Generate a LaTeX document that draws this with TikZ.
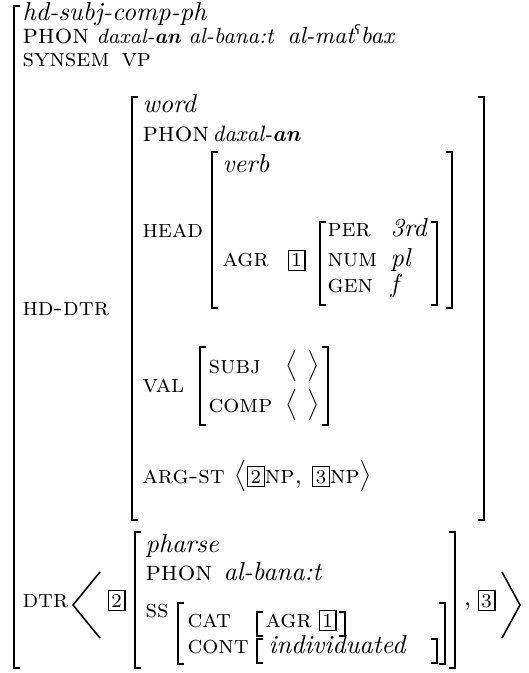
\documentclass[tikz,border=0pt]{standalone}
\usepackage{fontspec}
\newfontfamily\ipafont{DejaVu Sans}
\newcommand\tg[1]{{\setlength\fboxsep{1pt}\setlength\fboxrule{0.5pt}\fbox{\fontsize{7.5}{7.5}\selectfont\upshape #1}}}
\tikzset{
  lab/.style={font=\fontsize{9.7}{12}\selectfont\scshape, anchor=base west, inner sep=0pt},
  plab/.style={font=\fontsize{10.6}{12}\selectfont\scshape, anchor=base west, inner sep=0pt},
  val/.style={font=\fontsize{10}{12}\selectfont\itshape, anchor=base west, inner sep=0pt},
  tag/.style={anchor=base west, inner sep=0pt},
  brk/.style={line width=0.6pt},
}
\newcommand\myLB[3]{\draw[brk] (#1+6,#2) -- (#1,#2) -- (#1,#3) -- (#1+6,#3);}
\newcommand\myRB[3]{\draw[brk] (#1-6,#2) -- (#1,#2) -- (#1,#3) -- (#1-6,#3);}
\begin{document}
\begin{tikzpicture}[x=0.385pt, y=-0.385pt]
\useasboundingbox (0,0) rectangle (528,673);
% outer bracket
\myLB{14}{6}{668}
\node[val] (type) at (22,21) {hd-subj-comp-ph};
\node[plab] (phon) at (22,44) {phon};
\node[val, font=\fontsize{8}{10}\selectfont\itshape] (p1) at (96,44) {daxal-\textbf{an}};
\node[val, font=\fontsize{8.5}{10}\selectfont\itshape] (p2) at (188,44) {al-bana:t};
\node[val, font=\fontsize{9}{10}\selectfont\itshape] (p3) at (287,44) {al-mat\textsuperscript{\fontsize{5}{5}\ipafont\upshape ʕ}\kern-0.6pt bax};
\node[lab] (synsem) at (22,67) {synsem};
\node[lab] (vp) at (121,67) {vp};
% HD-DTR
\node[lab] (hddtr) at (22,316) {hd-dtr};
\myLB{132}{97}{520}
\myRB{484}{97}{520}
\node[val] (word) at (142,113) {word};
\node[plab] (phon2) at (142,142) {phon};
\node[val, font=\fontsize{8.6}{10}\selectfont\itshape] (ph2) at (212,142) {daxal-\textbf{an}};
\node[lab] (head) at (142,238) {head};
\myLB{212}{152}{308}
\myRB{452}{152}{308}
\node[val] (verb) at (222,173) {verb};
\node[lab] (agr) at (222,267) {agr};
\node[tag] (t1a) at (287,267) {\tg{1}};
\myLB{320}{222}{305}
\myRB{437}{222}{305}
\node[lab] (per) at (327,237) {per};
\node[val] (perv) at (390,237) {3rd};
\node[lab] (num) at (327,267) {num};
\node[val] (numv) at (390,267) {pl};
\node[lab] (gen) at (327,293) {gen};
\node[val] (genv) at (390,293) {f};
\node[lab] (val) at (142,392) {val};
\myLB{200}{347}{425}
\myRB{328}{347}{425}
\node[lab] (subj) at (208,373) {subj};
\node[val] (subjv) at (285,373) {$\big\langle\ \big\rangle$};
\node[lab] (comp) at (208,412) {comp};
\node[val] (compv) at (285,412) {$\big\langle\ \big\rangle$};
\node[lab] (argst) at (142,483) {arg-st};
\node[lab] (argv) at (234,483) {$\big\langle$\tg{2}np,\ \tg{3}np$\big\rangle$};
% DTR
\node[lab] (dtr) at (22,607) {dtr};
\draw[brk] (100,572) -- (73,605) -- (100,638);
\node[tag] (t2) at (107,607) {\tg{2}};
\myLB{135}{532}{668}
\myRB{455}{532}{668}
\node[val] (pharse) at (145,552) {pharse};
\node[plab] (phon3) at (145,580) {phon};
\node[val] (ph3) at (223,580) {al-bana:t};
\node[lab] (ss) at (145,617) {ss};
\myLB{178}{603}{664}
\myRB{445}{603}{664}
\node[lab] (cat) at (187,627) {cat};
\myLB{257}{612}{636}
\myRB{345}{612}{636}
\node[lab] (agr2) at (265,627) {agr};
\node[tag] (t1b) at (318,627) {\tg{1}};
\node[lab] (cont) at (187,653) {cont};
\myLB{257}{639}{663}
\myRB{437}{639}{663}
\node[val] (indiv) at (268,653) {individuated};
\node[lab] (comma) at (463,605) {,};
\node[tag] (t3) at (477,607) {\tg{3}};
\draw[brk] (502,572) -- (520,605) -- (502,638);
\end{tikzpicture}
\end{document}
